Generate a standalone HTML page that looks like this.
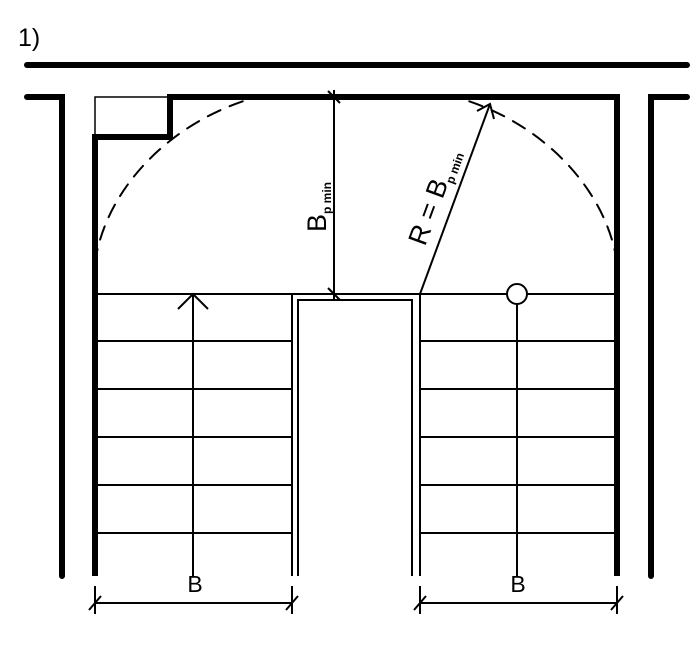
<!DOCTYPE html>
<html><head><style>html,body{margin:0;padding:0;background:#fff;}svg{display:block}</style></head>
<body>
<svg width="699" height="666" viewBox="0 0 699 666" xmlns="http://www.w3.org/2000/svg" font-family="Liberation Sans, sans-serif">
<defs><clipPath id="c"><rect x="96" y="99" width="519" height="195"/></clipPath></defs>
<text x="18" y="46" font-size="25">1)</text>
<g stroke="#000" fill="none" stroke-linecap="round">
<line x1="27" y1="65" x2="687" y2="65" stroke-width="6"/>
<polyline points="27,97 62,97 62,576" stroke-width="6"/>
<polyline points="687,97 651,97 651,576" stroke-width="6"/>
<polyline points="95,576 95,137 170,137 170,97 617,97 617,576" stroke-width="6" stroke-linecap="butt"/>
<rect x="95" y="97" width="75" height="40" stroke-width="1.5"/>
<g stroke-width="2" stroke-linecap="butt">
<line x1="95" y1="294" x2="617" y2="294"/>
<line x1="95" y1="341" x2="292" y2="341"/><line x1="420" y1="341" x2="617" y2="341"/>
<line x1="95" y1="389" x2="292" y2="389"/><line x1="420" y1="389" x2="617" y2="389"/>
<line x1="95" y1="437" x2="292" y2="437"/><line x1="420" y1="437" x2="617" y2="437"/>
<line x1="95" y1="485" x2="292" y2="485"/><line x1="420" y1="485" x2="617" y2="485"/>
<line x1="95" y1="533" x2="292" y2="533"/><line x1="420" y1="533" x2="617" y2="533"/>
<line x1="292" y1="294" x2="292" y2="576"/>
<polyline points="298,576 298,300 412,300 412,576"/>
<line x1="420" y1="294" x2="420" y2="576"/>
<line x1="193" y1="294" x2="193" y2="576"/>
<polyline points="178,309 193,294 208,309"/>
<line x1="517" y1="304" x2="517" y2="576"/>
<circle cx="517" cy="294" r="10" fill="#fff"/>
<line x1="334" y1="90" x2="334" y2="300"/>
<line x1="328" y1="91" x2="340" y2="103"/>
<line x1="328" y1="288" x2="340" y2="300"/>
<line x1="420" y1="294" x2="490" y2="104"/>
<polyline points="477,111 490,104 494,119"/>
</g>
<path d="M95,263 C105,190 170,120 260,96 M617,263 C607,190 542,120 452,96" stroke-width="2" stroke-dasharray="14,10" clip-path="url(#c)"/>
<g stroke-width="2" stroke-linecap="butt">
<line x1="95" y1="603" x2="292" y2="603"/>
<line x1="95" y1="586" x2="95" y2="614"/><line x1="292" y1="586" x2="292" y2="614"/>
<line x1="89" y1="610" x2="101" y2="596"/><line x1="286" y1="610" x2="298" y2="596"/>
<line x1="420" y1="603" x2="617" y2="603"/>
<line x1="420" y1="586" x2="420" y2="614"/><line x1="617" y1="586" x2="617" y2="614"/>
<line x1="414" y1="610" x2="426" y2="596"/><line x1="611" y1="610" x2="623" y2="596"/>
</g>
</g>
<text x="195" y="592" font-size="23" text-anchor="middle">B</text>
<text x="518" y="592" font-size="23" text-anchor="middle">B</text>
<text transform="translate(326,232) rotate(-90)" font-size="27">B<tspan font-size="12" font-weight="bold" dy="5">p min</tspan></text>
<text transform="translate(425,247) rotate(-69.8)" font-size="27">R = B<tspan font-size="12" font-weight="bold" dy="5">p min</tspan></text>
</svg>
</body></html>
